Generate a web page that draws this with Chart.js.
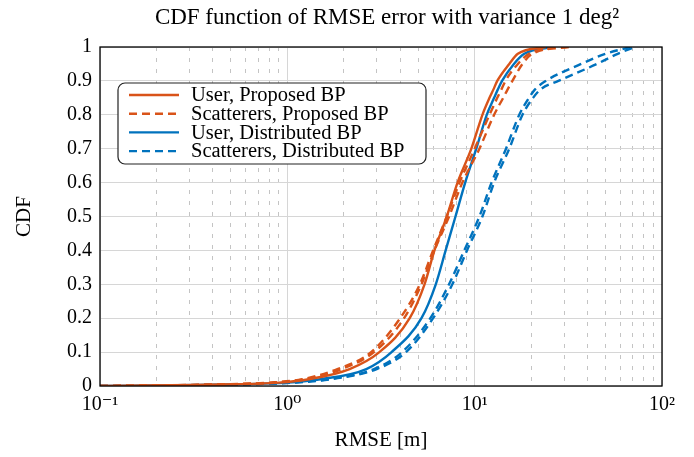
<!DOCTYPE html>
<html>
<head>
<meta charset="utf-8">
<script src="https://cdn.jsdelivr.net/npm/chart.js@4/dist/chart.umd.min.js"></script>
<style>
html, body { margin: 0; padding: 0; background: #fff; }
#wrap { width: 694px; height: 457px; }
</style>
</head>
<body>
<div id="wrap"><canvas id="myChart"></canvas></div>
<script>
// CDF levels, and the RMSE [m] read at each level for every curve
var cdfLevels         = [0, 0.005, 0.01, 0.02, 0.05, 0.1, 0.2, 0.3, 0.4, 0.5, 0.6, 0.7, 0.8, 0.85, 0.875, 0.9, 0.95, 0.98, 1.0];
var userProposed      = [0.1, 0.5, 0.9, 1.3, 2.15, 3.1, 4.5, 5.4, 6.1, 7.1, 8.1, 9.6, 11.0, 12.0, 12.6, 13.2, 15.3, 17.0, 24];
var scattProposedA    = [0.1, 0.45, 0.8, 1.2, 1.85, 2.8, 4.0, 5.1, 6.0, 7.1, 8.3, 10.0, 12.0, 13.2, 13.9, 14.6, 17.0, 19.5, 28];
var scattProposedB    = [0.1, 0.5, 0.85, 1.25, 1.95, 2.9, 4.2, 5.2, 6.1, 7.3, 8.6, 10.6, 12.7, 14.2, 15.0, 15.9, 18.0, 20.3, 32];
var userDistributed   = [0.1, 0.55, 1.0, 1.5, 2.64, 3.6, 5.2, 6.2, 7.0, 7.9, 8.9, 10.2, 11.6, 12.7, 13.3, 14.0, 16.2, 18.4, 26];
var scattDistributedA = [0.1, 0.6, 1.1, 1.7, 3.0, 4.3, 6.0, 7.6, 9.1, 11.0, 12.7, 15.3, 18.0, 20.5, 22.5, 28, 45, 58, 72];
var scattDistributedB = [0.1, 0.55, 1.05, 1.65, 2.9, 4.1, 5.8, 7.3, 8.8, 10.6, 12.3, 14.7, 17.3, 19.5, 21, 24, 37, 50, 68];

var xTicks = [0.1,0.2,0.3,0.4,0.5,0.6,0.7,0.8,0.9,1,2,3,4,5,6,7,8,9,10,20,30,40,50,60,70,80,90,100];
var decadeLabels = { "0.1": "10\u207B\u00B9", "1": "10\u2070", "10": "10\u00B9", "100": "10\u00B2" };
var chartTitle = "CDF function of RMSE error with variance 1 deg\u00B2";

var orange = "#D95319";
var blue = "#0072BD";
var serif = "'Liberation Serif', 'DejaVu Serif', serif";

function pts(xs) {
	var out = [];
	for (var i = 0; i < xs.length; i++) {
		out.push({ x: xs[i], y: cdfLevels[i] });
	}
	return out;
}

function line(label, xs, color, dashed, inLegend) {
	return {
		label: label,
		data: pts(xs),
		borderColor: color,
		backgroundColor: color,
		borderWidth: 2.4,
		borderDash: dashed ? [8, 5] : [],
		showLine: true,
		pointRadius: 0,
		cubicInterpolationMode: "monotone",
		fill: false,
		inLegend: inLegend
	};
}

function isDecade(v) {
	var l = Math.log10(v);
	return Math.abs(l - Math.round(l)) < 1e-6;
}

// title, legend box and frame, drawn like the pgfplots figure
var extras = {
	id: "extras",
	afterDatasetsDraw: function(chart) {
		var ctx = chart.ctx, a = chart.chartArea;
		var x = a.left + 18, y = a.top + 36, w = 308, h = 81, r = 7;
		ctx.save();
		ctx.beginPath();
		ctx.moveTo(x + r, y);
		ctx.arcTo(x + w, y, x + w, y + h, r);
		ctx.arcTo(x + w, y + h, x, y + h, r);
		ctx.arcTo(x, y + h, x, y, r);
		ctx.arcTo(x, y, x + w, y, r);
		ctx.closePath();
		ctx.fillStyle = "#fff";
		ctx.fill();
		ctx.lineWidth = 1.2;
		ctx.strokeStyle = "#222";
		ctx.stroke();
		var items = chart.data.datasets.filter(function(d) { return d.inLegend; });
		ctx.font = "20.5px " + serif;
		ctx.textBaseline = "middle";
		ctx.textAlign = "left";
		for (var i = 0; i < items.length; i++) {
			var ry = y + 12 + i * 18.7;
			ctx.beginPath();
			ctx.setLineDash(items[i].borderDash);
			ctx.strokeStyle = items[i].borderColor;
			ctx.lineWidth = 2.4;
			ctx.moveTo(x + 11, ry);
			ctx.lineTo(x + 61, ry);
			ctx.stroke();
			ctx.setLineDash([]);
			ctx.fillStyle = "#000";
			ctx.fillText(items[i].label, x + 73, ry + 1);
		}
		ctx.restore();
	},
	afterDraw: function(chart) {
		var ctx = chart.ctx, a = chart.chartArea;
		ctx.save();
		ctx.strokeStyle = "#000";
		ctx.lineWidth = 1.3;
		ctx.strokeRect(a.left, a.top, a.right - a.left, a.bottom - a.top);
		ctx.font = "23px " + serif;
		ctx.fillStyle = "#000";
		ctx.textAlign = "center";
		ctx.textBaseline = "middle";
		ctx.fillText(chartTitle, (a.left + a.right) / 2 + 6, 18);
		ctx.restore();
	}
};

var ctx = document.getElementById("myChart");

var myChart = new Chart(ctx, {
	type: "scatter",
	data: {
		datasets: [
			line("User, Proposed BP", userProposed, orange, false, true),
			line("Scatterers, Proposed BP", scattProposedA, orange, true, true),
			line("Scatterers, Proposed BP", scattProposedB, orange, true, false),
			line("User, Distributed BP", userDistributed, blue, false, true),
			line("Scatterers, Distributed BP", scattDistributedA, blue, true, true),
			line("Scatterers, Distributed BP", scattDistributedB, blue, true, false)
		]
	},
	options: {
		responsive: true,
		maintainAspectRatio: false,
		animation: false,
		layout: { padding: { left: 0, right: 32, top: 47, bottom: 0 } },
		plugins: {
			legend: { display: false },
			tooltip: { enabled: false },
			title: { display: false }
		},
		scales: {
			x: {
				type: "logarithmic",
				min: 0.1,
				max: 100,
				afterBuildTicks: function(scale) {
					scale.ticks = xTicks.map(function(v) { return { value: v }; });
				},
				afterFit: function(scale) { scale.height = 71; },
				ticks: {
					autoSkip: false,
					maxRotation: 0,
					padding: 7,
					color: "#000",
					font: { family: serif, size: 20 },
					callback: function(v) {
						var k = String(Math.round(v * 10) / 10);
						return decadeLabels[k] || "";
					}
				},
				grid: {
					drawTicks: false,
					lineWidth: 1,
					color: function(c) { return isDecade(c.tick.value) ? "#d6d6d6" : "#c4c4c4"; }
				},
				border: {
					display: false,
					dash: function(c) { return (c.tick && !isDecade(c.tick.value)) ? [4, 7] : []; }
				},
				title: {
					display: true,
					text: "RMSE [m]",
					color: "#000",
					font: { family: serif, size: 21 },
					padding: { top: 0, bottom: 4 }
				}
			},
			y: {
				min: 0,
				max: 1,
				afterFit: function(scale) { scale.width = 100; },
				ticks: {
					stepSize: 0.1,
					padding: 8,
					color: "#000",
					font: { family: serif, size: 20 },
					callback: function(v) { return String(Math.round(v * 10) / 10); }
				},
				grid: {
					drawTicks: false,
					color: "#d6d6d6",
					lineWidth: 1
				},
				border: { display: false },
				title: {
					display: true,
					text: "CDF",
					color: "#000",
					font: { family: serif, size: 21 },
					padding: { top: 12, bottom: 0 }
				}
			}
		}
	},
	plugins: [extras]
});
</script>
</body>
</html>
